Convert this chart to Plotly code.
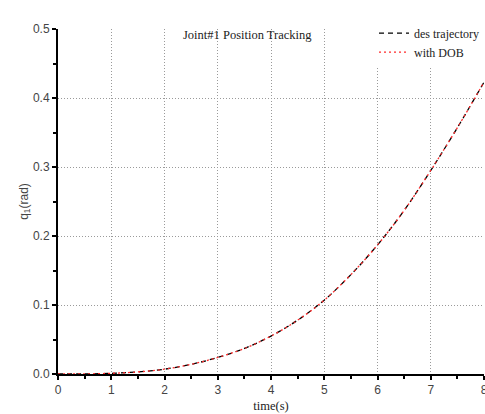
import plotly.graph_objects as go

# Joint 1 position over time (s -> rad)
time_s = [0, 0.5, 1, 1.5, 2, 2.5, 3, 3.5, 4, 4.5, 5, 5.5, 6, 6.5, 7, 7.5, 8]
q_des = [0.0, 0.0001, 0.001, 0.003, 0.007, 0.014, 0.024, 0.037, 0.055,
         0.078, 0.107, 0.144, 0.187, 0.237, 0.295, 0.357, 0.423]
q_dob = [0.0, 0.0001, 0.001, 0.003, 0.007, 0.014, 0.024, 0.037, 0.055,
         0.078, 0.107, 0.144, 0.187, 0.237, 0.295, 0.357, 0.423]

x_ticks = [0, 1, 2, 3, 4, 5, 6, 7, 8]
y_ticks = [0.0, 0.1, 0.2, 0.3, 0.4, 0.5]

SERIF = "Liberation Serif"
SANS = "Liberation Sans"

fig = go.Figure()
fig.add_trace(go.Scatter(
    x=time_s, y=q_des, mode="lines", name="des trajectory",
    line=dict(color="black", width=1.3, dash="5px,4px", shape="spline"),
))
fig.add_trace(go.Scatter(
    x=time_s, y=q_dob, mode="lines", name="with DOB",
    line=dict(color="#ff2a2a", width=1.3, dash="2px,3px", shape="spline"),
))

fig.add_annotation(
    x=0.444, y=0.983, xref="paper", yref="paper",
    text="Joint#1 Position Tracking", showarrow=False,
    font=dict(family=SERIF, size=12.5, color="#222"),
    xanchor="center", yanchor="middle",
)

axis_common = dict(
    showline=True, linecolor="black", linewidth=2,
    ticks="outside", ticklen=4, tickwidth=1.5, tickcolor="black",
    showgrid=True, gridcolor="#9a9a9a", gridwidth=1, griddash="1px,2px",
    zeroline=False, mirror=False, automargin=False,
    ticklabeloverflow="allow",
    tickfont=dict(family=SANS, size=12, color="#444"),
)

fig.update_xaxes(
    range=[0, 8], tickvals=x_ticks, ticktext=[str(v) for v in x_ticks],
    minor=dict(dtick=0.5, ticklen=3, tickwidth=1.5, tickcolor="black",
               ticks="outside", showgrid=False),
    title=dict(text="time(s)", font=dict(family=SERIF, size=12.5, color="#222"),
               standoff=5),
    **axis_common,
)
fig.update_yaxes(
    range=[0, 0.5], tickvals=y_ticks, ticktext=[f"{v:.1f}" for v in y_ticks],
    minor=dict(dtick=0.05, ticklen=3, tickwidth=1.5, tickcolor="black",
               ticks="outside", showgrid=False),
    title=dict(text="q<sub>1</sub>(rad)",
               font=dict(family=SANS, size=12, color="#444"), standoff=2),
    **axis_common,
)

fig.update_layout(
    width=485, height=414,
    margin=dict(l=58, r=1, t=29, b=40),
    paper_bgcolor="white", plot_bgcolor="white",
    showlegend=True,
    legend=dict(
        x=1.0, y=1.03, xanchor="right", yanchor="top",
        bgcolor="white", borderwidth=0,
        font=dict(family=SERIF, size=12, color="#222"),
        tracegroupgap=0, itemwidth=30,
    ),
)

fig.write_html("out.html")
